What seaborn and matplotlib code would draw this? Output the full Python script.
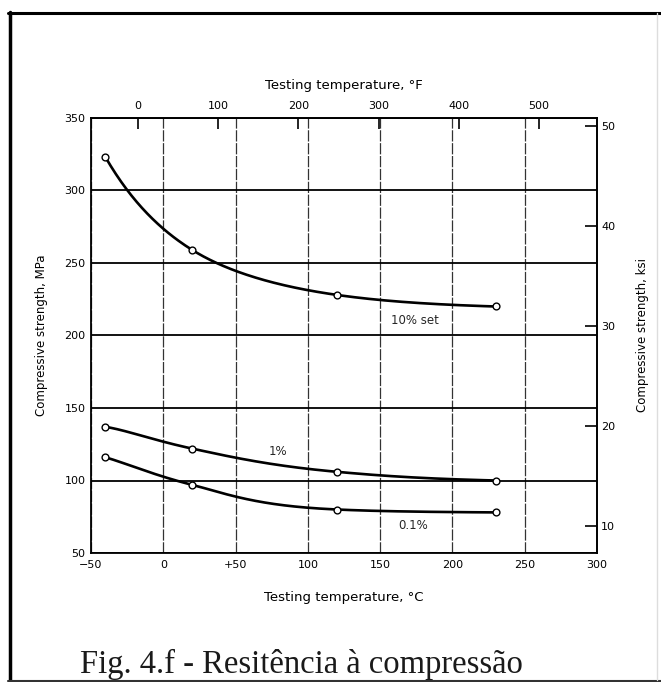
import numpy as np
import pandas as pd
import matplotlib
matplotlib.use("Agg")
import matplotlib.pyplot as plt
from matplotlib.lines import Line2D
import seaborn as sns

# ---- data ----
temps_c = [-40, 20, 120, 230]
set_10 = [323, 259, 228, 220]
set_1 = [137, 122, 106, 100]
set_01 = [116, 97, 80, 78]
series_names = ["10% set", "1%", "0.1%"]

x_ticks_c = [-50, 0, 50, 100, 150, 200, 250, 300]
x_ticklabels_c = ["\u221250", "0", "+50", "100", "150", "200", "250", "300"]
y_ticks_mpa = [50, 100, 150, 200, 250, 300, 350]
top_ticks_f = [0, 100, 200, 300, 400, 500]
right_ticks_ksi = [10, 20, 30, 40, 50]


def pchip(x, y, xs):
    order = np.argsort(x)
    x = np.asarray(x, float)[order]
    y = np.asarray(y, float)[order]
    h = np.diff(x)
    d = np.diff(y) / h
    n = len(x)
    m = np.zeros(n)
    for k in range(1, n - 1):
        if d[k - 1] * d[k] > 0:
            w1 = 2 * h[k] + h[k - 1]
            w2 = h[k] + 2 * h[k - 1]
            m[k] = (w1 + w2) / (w1 / d[k - 1] + w2 / d[k])

    def end(h0, h1, d0, d1):
        s = ((2 * h0 + h1) * d0 - h0 * d1) / (h0 + h1)
        if np.sign(s) != np.sign(d0):
            s = 0.0
        elif np.sign(d0) != np.sign(d1) and abs(s) > abs(3 * d0):
            s = 3 * d0
        return s

    m[0] = end(h[0], h[1], d[0], d[1])
    m[-1] = end(h[-1], h[-2], d[-1], d[-2])
    out = np.empty_like(xs)
    for i, xv in enumerate(xs):
        k = min(max(np.searchsorted(x, xv) - 1, 0), n - 2)
        t = (xv - x[k]) / h[k]
        out[i] = ((1 + 2 * t) * (1 - t) ** 2 * y[k] + t * (1 - t) ** 2 * h[k] * m[k]
                  + t ** 2 * (3 - 2 * t) * y[k + 1] + t ** 2 * (t - 1) * h[k] * m[k + 1])
    return out


def smooth_curve(x, y, xs, tau=70.0):
    """Monotone smooth drawing through the measured points, done in u = exp(-T/tau)."""
    u = np.exp(-np.asarray(x, float) / tau)
    return pchip(u, y, np.exp(-xs / tau))


sns.set_theme(style="white")
plt.rcParams["font.family"] = ["DejaVu Sans"]

W, H = 661, 682
fig = plt.figure(figsize=(W / 100, H / 100), dpi=100)
L, R, T, B = 91, 597, 118, 553
ax = fig.add_axes([L / W, 1 - B / H, (R - L) / W, (B - T) / H])

xs = np.linspace(temps_c[0], temps_c[-1], 300)
for name, vals in zip(series_names, [set_10, set_1, set_01]):
    curve = pd.DataFrame({"T": xs, "S": smooth_curve(temps_c, vals, xs)})
    sns.lineplot(data=curve, x="T", y="S", ax=ax, color="black", lw=1.9,
                 estimator=None, sort=False, zorder=4)
    pts = pd.DataFrame({"T": temps_c, "S": vals})
    sns.scatterplot(data=pts, x="T", y="S", ax=ax, marker="o", s=24,
                    facecolor="white", edgecolor="black", linewidth=1.0, zorder=5)

ax.set_xlim(-50, 300)
ax.set_ylim(50, 350)
ax.set_xticks(x_ticks_c)
ax.set_xticklabels(x_ticklabels_c)
ax.set_yticks(y_ticks_mpa)
ax.xaxis.grid(True, color="#333333", lw=0.9, linestyle=(0, (9, 1.3)))
ax.yaxis.grid(True, color="black", lw=1.3)
ax.tick_params(axis="both", length=0, labelsize=8, colors="black")
ax.tick_params(axis="x", pad=5)
ax.tick_params(axis="y", pad=4)
for sp in ax.spines.values():
    sp.set_color("black")
    sp.set_linewidth(1.3)

ax.set_xlabel("Testing temperature, \u00b0C", fontsize=9.5, labelpad=15, color="black")
ax.set_ylabel("Compressive strength, MPa", fontsize=8.5, labelpad=12, color="black")

# annotations
ax.text(174, 210, series_names[0], fontsize=8.5, ha="center", va="center")
ax.text(79, 120, series_names[1], fontsize=8.5, ha="center", va="center")
ax.text(173, 69, series_names[2], fontsize=8.5, ha="center", va="center")

# top Fahrenheit axis
top = ax.secondary_xaxis("top", functions=(lambda c: c * 9 / 5 + 32, lambda f: (f - 32) * 5 / 9))
top.set_xticks(top_ticks_f)
top.tick_params(direction="in", length=8, width=1.2, labelsize=8, pad=5, colors="black")
top.set_xlabel("Testing temperature, \u00b0F", fontsize=9.5, labelpad=9, color="black")
top.spines["top"].set_linewidth(1.3)

# right ksi axis
right = ax.secondary_yaxis("right", functions=(lambda m: m / 6.895, lambda k: k * 6.895))
right.set_yticks(right_ticks_ksi)
right.tick_params(direction="in", length=9, width=1.2, labelsize=8, pad=3, colors="black")
right.set_ylabel("Compressive strength, ksi", fontsize=8.5, labelpad=15, color="black")
right.spines["right"].set_linewidth(1.3)

# page frame
fig.add_artist(Line2D([9.5 / W, 9.5 / W], [0, 1 - 12 / H], transform=fig.transFigure, color="black", lw=2.5))
fig.add_artist(Line2D([8 / W, 1], [1 - 13 / H, 1 - 13 / H], transform=fig.transFigure, color="black", lw=2.2))
fig.add_artist(Line2D([8 / W, 1], [1 - 680.5 / H, 1 - 680.5 / H], transform=fig.transFigure, color="#333333", lw=1.5))
fig.add_artist(Line2D([657 / W, 657 / W], [1 - 13 / H, 1 - 680 / H], transform=fig.transFigure, color="#dddddd", lw=1))

fig.text(301 / W, 1 - 673 / H, "Fig. 4.f - Resitência à compressão",
         family="Liberation Serif", fontsize=23.5, ha="center", va="baseline", color="#1a1a1a")

fig.savefig("out.png", dpi=100)
